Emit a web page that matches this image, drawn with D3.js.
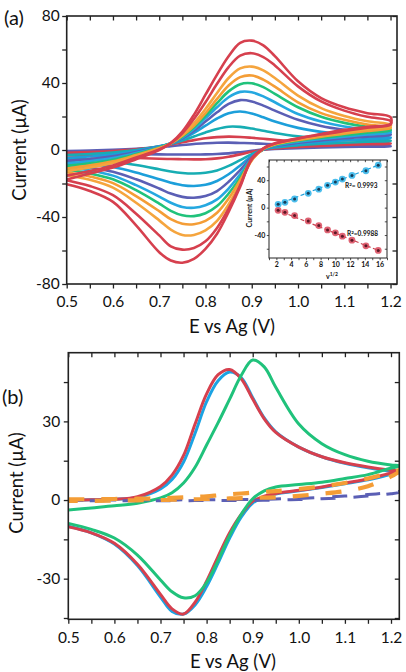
<!DOCTYPE html>
<html>
<head>
<meta charset="utf-8">
<script src="https://cdn.jsdelivr.net/npm/d3@7"></script>
<style>
  body { margin: 0; background: #fff; }
  text { font-family: Lato, "Open Sans", sans-serif; fill: #111; }
</style>
</head>
<body>
<script>
// ---------- data, panel (a): CVs at increasing scan rate ----------
var potA = [0.5, 0.55, 0.6, 0.65, 0.7, 0.725, 0.75, 0.775, 0.8, 0.825, 0.85, 0.875, 0.9, 0.925, 0.95, 1.0, 1.05, 1.1, 1.15, 1.2];

// forward (anodic) scan, one row per scan rate, smallest first
var fwdA = [
  [-0.6, -0.3, 0.1, 0.7, 1.6, 2.3, 3.0, 3.6, 4.0, 4.3, 4.4, 4.2, 4.0, 3.7, 3.4, 3.0, 2.7, 2.5, 2.4, 2.3],
  [-1.6, -1.2, -0.6, 0.4, 2.0, 3.2, 4.6, 5.9, 7.0, 7.7, 8.0, 7.8, 7.3, 6.7, 6.1, 5.1, 4.6, 4.3, 4.1, 4.0],
  [-3.0, -2.4, -1.5, 0, 2.2, 3.6, 5.6, 8.0, 10.5, 12.6, 13.9, 13.8, 12.8, 11.5, 10.2, 8.2, 7.0, 6.3, 5.9, 5.6],
  [-4.8, -3.9, -2.7, -0.6, 2.2, 3.8, 6.5, 10.2, 14.5, 18.8, 22, 23, 21.8, 19.5, 17, 13.2, 10.8, 9.3, 8.3, 7.5],
  [-6.5, -5.4, -3.8, -1.2, 2.0, 3.9, 7.0, 11.5, 17, 22.5, 27.5, 29.8, 29, 26.5, 23.5, 18, 14.3, 12, 10.5, 9.4],
  [-8.0, -6.7, -4.8, -1.8, 1.8, 4.0, 7.5, 12.5, 19, 25.5, 31.5, 34.7, 34.5, 32, 28.5, 21.5, 17, 14, 12.2, 10.8],
  [-9.5, -8, -5.8, -2.4, 1.5, 4.0, 8.0, 13.5, 20.5, 28, 35, 39.3, 39.8, 37.5, 33.5, 25.5, 19.8, 16.2, 13.8, 12.2],
  [-11, -9.2, -6.8, -3.0, 1.2, 4.0, 8.5, 14.5, 22, 30.5, 38.5, 43.5, 44.5, 42, 37.8, 28.5, 22, 18, 15.2, 13.5],
  [-12.5, -10.5, -7.8, -3.6, 0.8, 4.0, 9.0, 16, 24.5, 34, 43, 48.7, 49.8, 47.5, 43, 32.5, 25, 20.3, 17.2, 15.2],
  [-15.3, -12.5, -9.2, -4.5, 0.3, 4.0, 10, 18.5, 28.5, 39.5, 49.5, 56.3, 57.8, 55.5, 50.5, 38, 29, 23.5, 19.8, 17.3],
  [-17.6, -14, -10.5, -5.5, 0, 4.2, 11, 21, 33, 45, 56, 64, 65.3, 62.5, 56, 41, 31, 25.5, 22, 19.6]
];
// reverse (cathodic) scan, same potentials
var revA = [
  [-1.8, -2.0, -2.2, -2.4, -2.6, -2.7, -2.7, -2.7, -2.6, -2.4, -2.0, -1.3, -0.5, 0.2, 0.6, 1.1, 1.5, 1.8, 2.0, 2.2],
  [-3.2, -3.6, -4.1, -4.7, -5.2, -5.4, -5.5, -5.6, -5.5, -5.0, -4.0, -2.6, -1.0, 0.2, 0.9, 1.8, 2.4, 3.0, 3.4, 3.8],
  [-5.0, -5.8, -7.0, -9.0, -11.5, -12.8, -13.7, -14, -13.6, -12.2, -9.5, -6, -2.5, 0.3, 1.5, 2.8, 3.7, 4.4, 5.0, 5.4],
  [-7.0, -8.3, -10.2, -13.5, -17.5, -19.5, -21, -21.5, -20.8, -18.5, -14.5, -9.2, -3.5, 0.3, 2.0, 3.6, 4.8, 5.8, 6.6, 7.2],
  [-8.8, -10.5, -13, -17.5, -23, -26, -28, -28.5, -27.5, -24.5, -19, -12, -4.5, 0.3, 2.4, 4.3, 5.7, 7, 8, 9],
  [-10.3, -12.2, -15.3, -21, -27.8, -31.5, -34, -34.5, -33, -29.5, -23, -14.5, -5, 0.4, 2.7, 5, 6.6, 8, 9.3, 10.4],
  [-11.8, -14, -17.5, -24, -32, -36.3, -39, -39.5, -37.8, -33.5, -26, -16.5, -5.5, 0.5, 3, 5.5, 7.3, 8.8, 10.3, 11.7],
  [-13.3, -15.8, -19.8, -27.5, -36.5, -41.3, -44, -44.3, -42.3, -37.5, -29, -18, -6, 0.6, 3.3, 6, 8, 9.7, 11.4, 13],
  [-15, -17.8, -22.5, -31.5, -42, -47.5, -50.7, -50.7, -48, -42.3, -32.5, -20, -6.2, 0.7, 3.6, 6.5, 8.7, 10.6, 12.4, 14.2],
  [-18, -21.5, -27, -38, -51, -57.5, -59.5, -58.5, -54.5, -46.5, -35, -21, -5.6, 0.8, 3.8, 6.8, 9.2, 11.3, 13.3, 15.1],
  [-20.5, -24.5, -31, -45, -61, -66, -67.3, -65, -59, -50, -37, -22, -5, 1, 4, 7, 9.5, 12, 13.8, 15.6]
];

// inset: peak current vs square root of scan rate
var sqrtRate = [2.24, 3.16, 4.47, 6.32, 7.75, 8.94, 10, 10.95, 12.25, 14.14, 15.81];
var peakAnodic = [4.8, 7.8, 12.6, 20.8, 27, 32.5, 37.3, 41.7, 47, 53.8, 62];
var peakCathodic = [-3.9, -6.8, -11.6, -19.4, -26.2, -32.5, -36.8, -41.7, -47.5, -55.8, -62.5];
var fitX = [2, 16];
var fitAnodic = [3.8, 62.8];
var fitCathodic = [-2.9, -63.3];
var r2Labels = ["= 0.9993", "=0.9988"];

// ---------- data, panel (b) ----------
var potB = [0.5, 0.55, 0.6, 0.65, 0.7, 0.725, 0.75, 0.775, 0.8, 0.825, 0.85, 0.875, 0.9, 0.925, 0.95, 1.0, 1.05, 1.1, 1.15, 1.2, 1.218];
var redFwd = [0, 0.1, 0.3, 1.3, 5.2, 9.5, 17, 29, 40.5, 47.8, 49.8, 46.3, 38.5, 31, 25.8, 20.2, 16.5, 14.2, 12.6, 11.4, 11.1];
var redRev = [-10.2, -12.5, -16.5, -24.5, -36, -41.5, -43.5, -39, -31, -21.5, -12.5, -5.5, -0.5, 1.5, 2.5, 3.7, 5, 6.5, 8, 10.3, 10.9];
var blueFwd = [0, 0.1, 0.3, 1.0, 4.2, 7.8, 14.5, 25.5, 37.5, 45.5, 48.8, 46.7, 39, 31.3, 26, 20.2, 16.5, 14, 12.3, 11, 10.7];
var blueRev = [-10, -12.5, -16.8, -25, -37, -42.5, -43.5, -40, -33, -24, -14.5, -6.5, -1.2, 1.2, 2.3, 3.5, 4.8, 6.2, 7.7, 9.8, 10.5];
var greenFwd = [-3.8, -3.0, -2.2, -1.2, 0.8, 2.8, 6.5, 12.5, 21, 29.5, 38.5, 47.5, 53.4, 50.8, 43, 29, 21.5, 17.3, 14.8, 13.4, 13.1];
var greenRev = [-8.9, -11.2, -14.5, -21, -30.5, -35, -37.3, -36.5, -31.5, -23, -13.5, -5.5, 0.5, 3.5, 5, 5.9, 6.8, 8.2, 9.7, 12.2, 12.9];
var orangeFwd = [0.3, 0.3, 0.4, 0.5, 0.6, 0.8, 1.0, 1.2, 1.4, 1.8, 2.2, 2.5, 2.8, 3.1, 3.4, 4.2, 5.2, 6.5, 8.2, 10.5, 11.3];
var orangeRev = [-0.3, -0.3, -0.2, -0.1, 0, 0.1, 0.2, 0.3, 0.4, 0.5, 0.6, 0.7, 0.8, 0.9, 1.0, 1.6, 2.4, 3.4, 5.3, 9.0, 11.0];
var purpleFwd = [0, 0, 0, 0, 0, 0, 0.1, 0.1, 0.1, 0.1, 0.2, 0.2, 0.2, 0.3, 0.4, 0.6, 1.0, 1.5, 2.1, 2.8, 3.2];
var purpleRev = [-0.3, -0.3, -0.3, -0.3, -0.3, -0.3, -0.3, -0.2, -0.2, -0.2, -0.2, -0.2, -0.2, -0.1, 0, 0.2, 0.5, 0.9, 1.5, 2.4, 3.0];

// ---------- tick values ----------
var xMajor = [0.5, 0.6, 0.7, 0.8, 0.9, 1.0, 1.1, 1.2];
var xMinor = [0.55, 0.65, 0.75, 0.85, 0.95, 1.05, 1.15];
var yMajorA = [-80, -40, 0, 40, 80];
var yMinorA = [-60, -20, 20, 60];
var yMajorB = [-30, 0, 30];
var yMinorB = [-45, -15, 15, 45];
var insetXMajor = [2, 4, 6, 8, 10, 12, 14, 16];
var insetXMinor = [1, 3, 5, 7, 9, 11, 13, 15, 17];
var insetYMajor = [-40, 0, 40];
var insetYMinor = [-60, -20, 20, 60];

// ---------- styles ----------
var RED = "#d6404e", ORANGE = "#f49d36", GREEN = "#20c27b", BLUE = "#1c9fda",
    TEAL = "#17adb3", PURPLE = "#5b5fb5", SKY = "#25a8e0";
var colorsA = [PURPLE, RED, TEAL, BLUE, PURPLE, SKY, GREEN, ORANGE, "#f5a53e", RED, RED];

var svg = d3.select("body").append("svg")
    .attr("width", 406)
    .attr("height", 672);

function loop(E, f, r) {
    var pts = E.map(function (e, i) { return [e, f[i]]; });
    for (var i = E.length - 1; i >= 0; i--) pts.push([E[i], r[i]]);
    return pts;
}

function makeLine(x, y) {
    return d3.line()
        .x(function (d) { return x(d[0]); })
        .y(function (d) { return y(d[1]); })
        .curve(d3.curveCatmullRom.alpha(0.5));
}

// frame + ticks on all four sides, labels left and bottom
function axes(g, x, y, o) {
    var x0 = x.range()[0], x1 = x.range()[1], y0 = y.range()[0], y1 = y.range()[1];
    var xl = function (d) { return d.toFixed(o.xDec); };
    var yl = function (d) { return String(d); };

    g.append("g").attr("transform", "translate(0," + y0 + ")")
        .call(d3.axisBottom(x).tickValues(o.xMinor).tickSize(o.tk).tickFormat(""));
    g.append("g").attr("class", "lab").attr("transform", "translate(0," + y0 + ")")
        .call(d3.axisBottom(x).tickValues(o.xMajor).tickSize(o.tk).tickPadding(o.xPad).tickFormat(xl));
    g.append("g").attr("transform", "translate(0," + y1 + ")")
        .call(d3.axisTop(x).tickValues(o.xMajor.concat(o.xMinor)).tickSize(-o.tk).tickFormat(""));

    g.append("g").attr("transform", "translate(" + x0 + ",0)")
        .call(d3.axisLeft(y).tickValues(o.yMinor).tickSize(o.tk).tickFormat(""));
    g.append("g").attr("class", "lab").attr("transform", "translate(" + x0 + ",0)")
        .call(d3.axisLeft(y).tickValues(o.yMajor).tickSize(o.tk).tickPadding(o.yPad).tickFormat(yl));
    g.append("g").attr("transform", "translate(" + x1 + ",0)")
        .call(d3.axisRight(y).tickValues(o.yMajor.concat(o.yMinor)).tickSize(-o.tk).tickFormat(""));

    g.selectAll(".domain").remove();
    g.selectAll(".tick line").attr("stroke", "#222").attr("stroke-width", o.tw);
    g.selectAll(".lab text")
        .style("font-size", o.fs + "px")
        .style("font-weight", o.fw || "normal")
        .attr("fill", o.fill || "#111");

    g.append("rect")
        .attr("x", x0).attr("y", y1)
        .attr("width", x1 - x0).attr("height", y0 - y1)
        .attr("fill", "none").attr("stroke", "#222").attr("stroke-width", o.fw ? 1 : 1.6);
}

var defs = svg.append("defs");

// ================= panel (a) =================
var xA = d3.scaleLinear().domain([0.5, 1.214]).range([66.7, 397]);
var yA = d3.scaleLinear().domain([-80, 80]).range([284, 16]);

defs.append("clipPath").attr("id", "clipA").append("rect")
    .attr("x", 66.7).attr("y", 16).attr("width", 397 - 66.7).attr("height", 284 - 16);

var gA = svg.append("g");
var lineA = makeLine(xA, yA);
gA.append("g").attr("clip-path", "url(#clipA)")
    .selectAll("path")
    .data(fwdA.map(function (f, i) { return loop(potA, f, revA[i]); }))
    .enter()
    .append("path")
    .attr("d", lineA)
    .attr("fill", "none")
    .attr("stroke", function (d, i) { return colorsA[i]; })
    .attr("stroke-width", 2.6)
    .attr("stroke-linejoin", "round");

axes(gA, xA, yA, {
    xMajor: xMajor, xMinor: xMinor, yMajor: yMajorA, yMinor: yMinorA,
    xDec: 1, tk: 4.5, tw: 1.3, xPad: 7, yPad: 2.5, fs: 15.5
});

gA.append("text")
    .attr("x", 232).attr("y", 333)
    .attr("text-anchor", "middle")
    .style("font-size", "18.5px")
    .text("E vs Ag (V)");
gA.append("text")
    .attr("transform", "translate(19,150) rotate(-90)")
    .attr("text-anchor", "middle")
    .attr("dominant-baseline", "central")
    .style("font-size", "18.5px")
    .text("Current (µA)");
gA.append("text")
    .attr("x", 4).attr("y", 25)
    .style("font-size", "20px")
    .text("(a)");

// ----- inset -----
var ix = d3.scaleLinear().domain([1, 17]).range([269, 387]);
var iy = d3.scaleLinear().domain([-73.5, 69.5]).range([258, 160]);
var gI = svg.append("g");
gI.append("rect")
    .attr("x", 269).attr("y", 160).attr("width", 118).attr("height", 98)
    .attr("fill", "#fff");

var fitLine = d3.line()
    .x(function (d) { return ix(d[0]); })
    .y(function (d) { return iy(d[1]); });
[[fitAnodic, "#1c9fda"], [fitCathodic, "#c9414f"]].forEach(function (s) {
    gI.append("path")
        .datum(fitX.map(function (v, i) { return [v, s[0][i]]; }))
        .attr("d", fitLine)
        .attr("fill", "none")
        .attr("stroke", s[1])
        .attr("stroke-width", 1.2)
        .attr("stroke-dasharray", "4,2.5");
});

[[peakAnodic, "#2db3ea", "#173a55"], [peakCathodic, "#d9485a", "#5a1826"]].forEach(function (s) {
    var pts = sqrtRate.map(function (v, i) { return [v, s[0][i]]; });
    gI.selectAll(null).data(pts).enter().append("circle")
        .attr("cx", function (d) { return ix(d[0]); })
        .attr("cy", function (d) { return iy(d[1]); })
        .attr("r", 3.4)
        .attr("fill", s[1])
        .attr("fill-opacity", 0.85);
    gI.selectAll(null).data(pts).enter().append("circle")
        .attr("cx", function (d) { return ix(d[0]); })
        .attr("cy", function (d) { return iy(d[1]); })
        .attr("r", 1.5)
        .attr("fill", s[2]);
});

axes(gI, ix, iy, {
    xMajor: insetXMajor, xMinor: insetXMinor, yMajor: insetYMajor, yMinor: insetYMinor,
    xDec: 0, tk: 2.2, tw: 0.8, xPad: 2, yPad: 1.5, fs: 7, fw: "bold", fill: "#333"
});

var r2 = gI.append("text").attr("x", 345).attr("y", 188)
    .style("font-size", "6.5px").style("font-weight", "bold").attr("fill", "#333");
r2.append("tspan").text("R");
r2.append("tspan").attr("dy", -2.5).style("font-size", "4.5px").text("2");
r2.append("tspan").attr("dy", 2.5).text(r2Labels[0]);
var r2b = gI.append("text").attr("x", 347).attr("y", 236)
    .style("font-size", "6.5px").style("font-weight", "bold").attr("fill", "#333");
r2b.append("tspan").text("R");
r2b.append("tspan").attr("dy", -2.5).style("font-size", "4.5px").text("2");
r2b.append("tspan").attr("dy", 2.5).text(r2Labels[1]);

gI.append("text")
    .attr("transform", "translate(249,208) rotate(-90)")
    .attr("text-anchor", "middle")
    .attr("dominant-baseline", "central")
    .style("font-size", "7px").style("font-weight", "bold").attr("fill", "#333")
    .text("Current (µA)");
var nu = gI.append("text").attr("x", 326).attr("y", 279)
    .style("font-size", "7px").style("font-weight", "bold").attr("fill", "#333");
nu.append("tspan").text("v");
nu.append("tspan").attr("dy", -3).style("font-size", "5px").text("1/2");

// ================= panel (b) =================
var xB = d3.scaleLinear().domain([0.5, 1.218]).range([68.3, 399.3]);
var yB = d3.scaleLinear().domain([-45.5, 56.2]).range([619.3, 352.7]);

defs.append("clipPath").attr("id", "clipB").append("rect")
    .attr("x", 68.3).attr("y", 352.7).attr("width", 399.3 - 68.3).attr("height", 619.3 - 352.7);

var gB = svg.append("g");
var lineB = makeLine(xB, yB);
// solid curves first, dashed blanks drawn over them
var seriesB = [
    { f: blueFwd, r: blueRev, c: "#1ba3e3", w: 3, dash: null },
    { f: redFwd, r: redRev, c: RED, w: 3, dash: null },
    { f: greenFwd, r: greenRev, c: GREEN, w: 3, dash: null },
    { f: purpleFwd, r: purpleRev, c: PURPLE, w: 3, dash: "15,18" },
    { f: orangeFwd, r: orangeRev, c: ORANGE, w: 4.2, dash: "16,17" }
];
gB.append("g").attr("clip-path", "url(#clipB)")
    .selectAll("path")
    .data(seriesB)
    .enter()
    .append("path")
    .attr("d", function (s) { return lineB(loop(potB, s.f, s.r)); })
    .attr("fill", "none")
    .attr("stroke", function (s) { return s.c; })
    .attr("stroke-width", function (s) { return s.w; })
    .attr("stroke-dasharray", function (s) { return s.dash; })
    .attr("stroke-linejoin", "round");

axes(gB, xB, yB, {
    xMajor: xMajor, xMinor: xMinor, yMajor: yMajorB, yMinor: yMinorB,
    xDec: 1, tk: 4.5, tw: 1.3, xPad: 8, yPad: 3.5, fs: 15.5
});

gB.append("text")
    .attr("x", 233).attr("y", 668)
    .attr("text-anchor", "middle")
    .style("font-size", "18.5px")
    .text("E vs Ag (V)");
gB.append("text")
    .attr("transform", "translate(16,483) rotate(-90)")
    .attr("text-anchor", "middle")
    .attr("dominant-baseline", "central")
    .style("font-size", "18.5px")
    .text("Current (µA)");
gB.append("text")
    .attr("x", 2).attr("y", 404)
    .style("font-size", "20px")
    .text("(b)");
</script>
</body>
</html>
